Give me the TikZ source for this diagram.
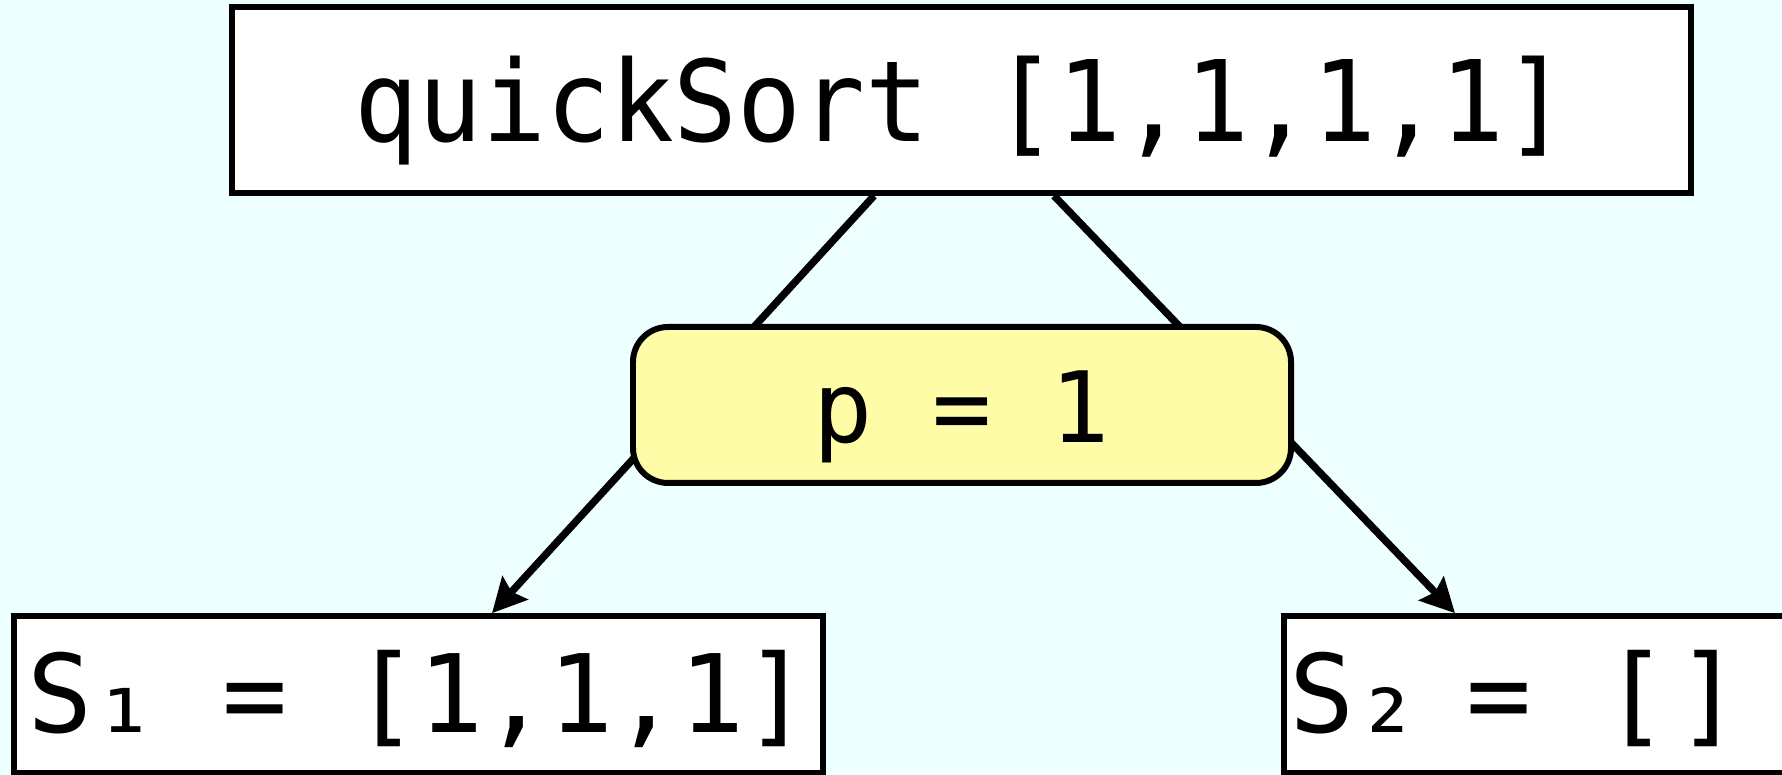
\documentclass[tikz,border=0pt]{standalone}
\usepackage{fontspec}
\usepackage{graphicx}
\setmonofont{DejaVu Sans Mono}
\definecolor{qsback}{RGB}{238,255,255}
\definecolor{qsyellow}{RGB}{255,252,168}
\usetikzlibrary{arrows.meta,positioning}

\begin{document}
\begin{tikzpicture}[
    listbox/.style={draw=black, line width=1.6pt, fill=white, font=\fontsize{30.8}{36}\selectfont\ttfamily, inner sep=0pt, text height=0.93cm, text depth=0.16cm},
    pivotbox/.style={draw=black, line width=1.7pt, fill=qsyellow, rounded corners=0.35cm, font=\fontsize{28}{34}\selectfont\ttfamily, minimum width=6.58cm, minimum height=1.56cm, inner sep=0pt, text height=0.92cm, text depth=0.16cm},
    split/.style={line width=2.1pt, -{Stealth[length=3.4mm,width=3.4mm,inset=0.5mm]}}
  ]
  % Background
  \fill[qsback] (0,0) rectangle (17.82,7.75);
  \useasboundingbox (0,0) rectangle (17.82,7.75);

  % Call and the two partitions
  \node[listbox, font=\fontsize{30.2}{36}\selectfont\ttfamily, text height=1.0cm, minimum width=14.59cm, minimum height=1.86cm] (qs) at (9.615,6.75) {\scalebox{1}[1.06]{quickSort [1,1,1,1]}};
  \node[listbox, minimum width=8.09cm, minimum height=1.57cm] (sone) at (4.185,0.805) {S₁ = [1,1,1]};
  \node[listbox, anchor=west, minimum height=1.57cm, text width=5.4cm, align=left] (stwo) at (12.81,0.805) {\hspace{0.06cm}S₂\hspace{0.1cm} = ~[\hspace{0.08cm}]};

  % Connectors
  \draw[split] ([xshift=-0.875cm]qs.south) -- ([xshift=0.735cm]sone.north);
  \draw[split] ([xshift=0.925cm]qs.south) -- ([xshift=1.74cm]stwo.north west);

  % Pivot
  \node[pivotbox] (piv) at (9.62,3.70) {p = 1};
\end{tikzpicture}
\end{document}
